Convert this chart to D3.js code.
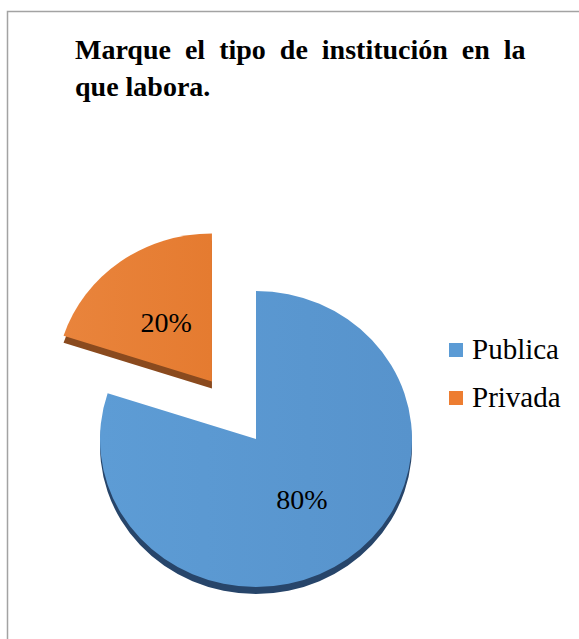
<!DOCTYPE html>
<html>
<head>
<meta charset="utf-8">
<script src="https://cdn.jsdelivr.net/npm/d3@7"></script>
<style>
  body { margin: 0; background: #fff; font-family: serif; }
  .serif { font-family: "Liberation Serif", Tinos, serif; }
</style>
</head>
<body>
<div id="holder"></div>
<script>
// data
const categories = ["Publica", "Privada"]
const values = [80, 20]
const labels = ["80%", "20%"]
const titleLines = ["Marque el tipo de institución en la", "que labora."]

const topColors = [["#5d9cd5", "#5793cc"], ["#e9843c", "#e57b30"]]
const sideColors = ["#27456a", "#8a4a1e"]

const width = 579, height = 639
const svg = d3.select("#holder").append("svg")
    .attr("width", width)
    .attr("height", height)
    .attr("class", "serif")

// frame
svg.append("rect")
    .attr("x", 7.5).attr("y", 11.5)
    .attr("width", width + 10).attr("height", height + 10)
    .attr("fill", "#fff")
    .attr("stroke", "#a3a3a3")
    .attr("stroke-width", 1.5)

// title (first line is justified in the original, so widen the word gaps)
const titleLeft = 75
svg.append("text")
    .attr("class", "serif")
    .attr("x", titleLeft)
    .attr("y", 59)
    .style("font-size", "28px")
    .style("font-weight", "bold")
    .style("word-spacing", "7px")
    .attr("fill", "#000")
    .text(titleLines[0])

svg.append("text")
    .attr("class", "serif")
    .attr("x", titleLeft)
    .attr("y", 96)
    .style("font-size", "28px")
    .style("font-weight", "bold")
    .attr("fill", "#000")
    .text(titleLines[1])

// pie
const cx = 256, cy = 439
const rx = 156, ry = 148
const squash = ry / rx
const depth = 7
const explode = 75

const defs = svg.append("defs")
topColors.forEach((c, i) => {
    let g = defs.append("linearGradient")
        .attr("id", "grad" + i)
        .attr("x1", "0%").attr("x2", "100%")
        .attr("y1", "0%").attr("y2", "0%")
    g.append("stop").attr("offset", "0%").attr("stop-color", c[0])
    g.append("stop").attr("offset", "100%").attr("stop-color", c[1])
})

const pie = d3.pie().sort(null).value(d => d)
const arcs = pie(values)

const arc = d3.arc().innerRadius(0).outerRadius(rx)
const labelArc = d3.arc().innerRadius(rx * 0.5).outerRadius(rx * 0.5)

// exploded slice: Privada
const offsets = arcs.map((a, i) => {
    if (i === 0) return [0, 0]
    let mid = (a.startAngle + a.endAngle) / 2
    return [Math.sin(mid) * explode, -Math.cos(mid) * explode * squash]
})

// draw order: orange behind, blue in front
let order = [1, 0]
order.forEach(i => {
    let a = arcs[i]
    let g = svg.append("g")
        .attr("transform", `translate(${cx + offsets[i][0]},${cy + offsets[i][1]}) scale(1,${squash})`)

    g.append("path")
        .attr("d", arc(a))
        .attr("transform", `translate(0,${depth / squash})`)
        .attr("fill", sideColors[i])

    g.append("path")
        .attr("d", arc(a))
        .attr("fill", `url(#grad${i})`)
})

// labels
arcs.forEach((a, i) => {
    let c = labelArc.centroid(a)
    svg.append("text")
        .attr("class", "serif")
        .attr("x", cx + offsets[i][0] + c[0])
        .attr("y", cy + offsets[i][1] + c[1] * squash + 10)
        .attr("text-anchor", "middle")
        .style("font-size", "28px")
        .attr("fill", "#000")
        .text(labels[i])
})

// legend
const legend = svg.append("g").attr("transform", "translate(449,343)")
categories.forEach((name, i) => {
    let row = legend.append("g").attr("transform", `translate(0,${i * 48})`)
    row.append("rect")
        .attr("width", 14).attr("height", 14)
        .attr("fill", i === 0 ? "#5b9bd5" : "#ed7d31")
    row.append("text")
        .attr("class", "serif")
        .attr("x", 23).attr("y", 16)
        .style("font-size", "29px")
        .attr("fill", "#000")
        .text(name)
})
</script>
</body>
</html>
